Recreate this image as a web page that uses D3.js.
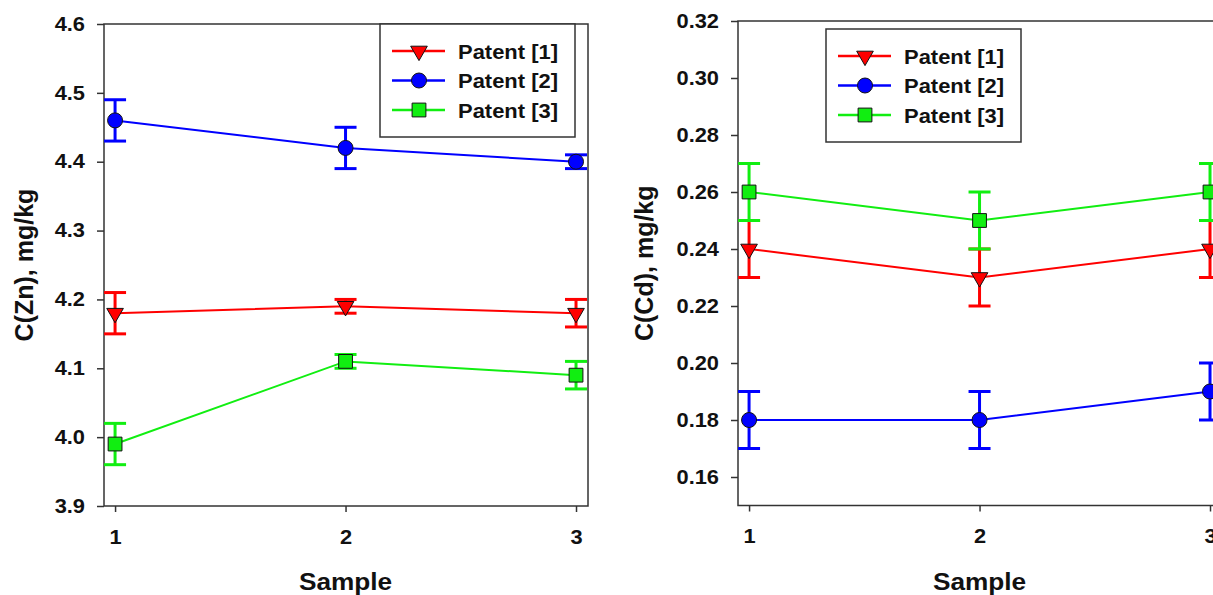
<!DOCTYPE html>
<html>
<head>
<meta charset="utf-8">
<script src="https://cdn.jsdelivr.net/npm/d3@7"></script>
<style>
  body { margin: 0; background: #fff; }
  svg { display: block; font-family: "Liberation Sans", Arial, sans-serif; font-weight: bold; }
</style>
</head>
<body>
<svg id="chart" width="1213" height="595"></svg>
<script>
// samples on the x axis
const samples = [1, 2, 3];
const seriesNames = ["Patent [1]", "Patent [2]", "Patent [3]"];
const seriesColors = ["#ff0000", "#0000ff", "#11ee11"];
const seriesMarkers = ["triangle", "circle", "square"];

// zinc, mg/kg
const znPatent1 = [4.18, 4.19, 4.18];
const znPatent1Err = [0.03, 0.01, 0.02];
const znPatent2 = [4.46, 4.42, 4.40];
const znPatent2Err = [0.03, 0.03, 0.01];
const znPatent3 = [3.99, 4.11, 4.09];
const znPatent3Err = [0.03, 0.01, 0.02];
const znTicks = [3.9, 4.0, 4.1, 4.2, 4.3, 4.4, 4.5, 4.6];

// cadmium, mg/kg
const cdPatent1 = [0.24, 0.23, 0.24];
const cdPatent1Err = [0.01, 0.01, 0.01];
const cdPatent2 = [0.18, 0.18, 0.19];
const cdPatent2Err = [0.01, 0.01, 0.01];
const cdPatent3 = [0.26, 0.25, 0.26];
const cdPatent3Err = [0.01, 0.01, 0.01];
const cdTicks = [0.16, 0.18, 0.20, 0.22, 0.24, 0.26, 0.28, 0.30, 0.32];

const svg = d3.select('#chart');
const SX = 1.12; // the source picture is stretched sideways a bit

function stretch(sel, sx) {
  sel.each(function() {
    const t = d3.select(this);
    const x = +t.attr('x') || 0, y = +t.attr('y') || 0;
    t.attr('x', 0).attr('y', 0).attr('transform', `translate(${x},${y}) scale(${sx},1)`);
  });
}

function marker(g, type, color) {
  if (type === 'circle') {
    g.append('circle').attr('r', 7.5).attr('fill', color).attr('stroke', '#111').attr('stroke-width', 1);
  } else if (type === 'square') {
    g.append('path').attr('d', d3.symbol().type(d3.symbolSquare).size(190)())
      .attr('fill', color).attr('stroke', '#111').attr('stroke-width', 1);
  } else {
    g.append('path').attr('d', d3.symbol().type(d3.symbolTriangle).size(120)())
      .attr('transform', 'rotate(180)')
      .attr('fill', color).attr('stroke', '#111').attr('stroke-width', 1);
  }
}

function drawPanel(cfg) {
  const x = d3.scaleLinear().domain([0.952, 3.052]).range([cfg.left, cfg.left + 484]);
  const y = d3.scaleLinear().domain(cfg.yDomain).range([cfg.bottom, cfg.top]);
  const g = svg.append('g');

  // y axis
  const ya = g.append('g').attr('transform', `translate(${cfg.left},0)`)
    .call(d3.axisLeft(y).tickValues(cfg.ticks).tickFormat(d3.format(cfg.fmt)).tickSize(7).tickPadding(12).tickSizeOuter(0));
  ya.select('.domain').remove();
  ya.selectAll('.tick line').attr('stroke', '#333').attr('stroke-width', 1.5);
  ya.selectAll('.tick text').attr('font-size', 19.5).attr('fill', '#111').attr('font-family', null);
  stretch(ya.selectAll('.tick text'), SX);

  // x axis
  const xa = g.append('g').attr('transform', `translate(0,${cfg.bottom})`)
    .call(d3.axisBottom(x).tickValues(samples).tickFormat(d3.format('d')).tickSize(6).tickPadding(18).tickSizeOuter(0));
  xa.select('.domain').remove();
  xa.selectAll('.tick line').attr('stroke', '#333').attr('stroke-width', 1.5);
  xa.selectAll('.tick text').attr('font-size', 19.5).attr('fill', '#111').attr('font-family', null);
  stretch(xa.selectAll('.tick text'), SX);

  // frame
  g.append('rect').attr('x', x.range()[0]).attr('y', cfg.top)
    .attr('width', x.range()[1] - x.range()[0]).attr('height', cfg.bottom - cfg.top)
    .attr('fill', 'none').attr('stroke', '#333').attr('stroke-width', 1.5);

  // titles
  const xt = g.append('text').attr('x', x(2)).attr('y', 590).attr('text-anchor', 'middle')
    .attr('font-size', 23).attr('fill', '#111').text('Sample');
  stretch(xt, 1.14);
  g.append('text').attr('transform', `translate(${cfg.left - cfg.titleOffset},${(cfg.top + cfg.bottom) / 2}) rotate(-90)`)
    .attr('text-anchor', 'middle').attr('dy', '0.35em')
    .attr('font-size', 25).attr('fill', '#111').text(cfg.yTitle);

  // series
  const line = d3.line().x((d, i) => x(samples[i])).y(d => y(d));
  cfg.series.forEach((s, k) => {
    const c = seriesColors[k];
    const sg = g.append('g');
    sg.append('path').datum(s.values).attr('d', line)
      .attr('fill', 'none').attr('stroke', c).attr('stroke-width', 2);
    s.values.forEach((v, i) => {
      const cx = x(samples[i]), lo = y(v - s.err[i]), hi = y(v + s.err[i]);
      sg.append('line').attr('x1', cx).attr('x2', cx).attr('y1', lo).attr('y2', hi)
        .attr('stroke', c).attr('stroke-width', 3);
      [lo, hi].forEach(yy => sg.append('line').attr('x1', cx - 11).attr('x2', cx + 11)
        .attr('y1', yy).attr('y2', yy).attr('stroke', c).attr('stroke-width', 3));
    });
    s.values.forEach((v, i) => {
      marker(sg.append('g').attr('transform', `translate(${x(samples[i])},${y(v)})`), seriesMarkers[k], c);
    });
  });

  // legend
  const lg = g.append('g').attr('transform', `translate(${cfg.legendX},${cfg.legendY})`);
  lg.append('rect').attr('width', 195).attr('height', 113)
    .attr('fill', '#fff').attr('stroke', '#333').attr('stroke-width', 1.5);
  seriesNames.forEach((name, k) => {
    const ry = 27 + k * 29.5;
    lg.append('line').attr('x1', 12).attr('x2', 65).attr('y1', ry).attr('y2', ry)
      .attr('stroke', seriesColors[k]).attr('stroke-width', 2.5);
    marker(lg.append('g').attr('transform', `translate(39,${ry})`), seriesMarkers[k], seriesColors[k]);
    const t = lg.append('text').attr('x', 78).attr('y', ry).attr('dy', '0.36em')
      .attr('font-size', 21).attr('fill', '#111').text(name);
    stretch(t, 1.045);
  });
}

drawPanel({
  left: 104, top: 24, bottom: 506, yDomain: [3.9, 4.6], ticks: znTicks, fmt: '.1f',
  yTitle: 'C(Zn), mg/kg', titleOffset: 80, legendX: 380, legendY: 24,
  series: [
    { values: znPatent1, err: znPatent1Err },
    { values: znPatent2, err: znPatent2Err },
    { values: znPatent3, err: znPatent3Err }
  ]
});

drawPanel({
  left: 738, top: 21, bottom: 505.5, yDomain: [0.15, 0.32], ticks: cdTicks, fmt: '.2f',
  yTitle: 'C(Cd), mg/kg', titleOffset: 94, legendX: 826, legendY: 29,
  series: [
    { values: cdPatent1, err: cdPatent1Err },
    { values: cdPatent2, err: cdPatent2Err },
    { values: cdPatent3, err: cdPatent3Err }
  ]
});
</script>
</body>
</html>
